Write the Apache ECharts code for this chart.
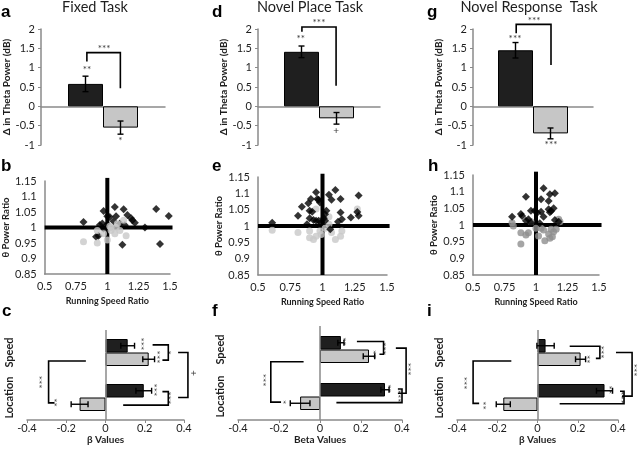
<!DOCTYPE html>
<html>
<head>
<meta charset="utf-8">
<script src="https://cdn.jsdelivr.net/npm/echarts@6/dist/echarts.min.js"></script>
<style>
html, body { margin: 0; padding: 0; background: #fff; }
#main { width: 640px; height: 451px; }
</style>
</head>
<body>
<div id="main"></div>
<script>
// ---------- data ----------
// top row: change in theta power (dB), [black bar, gray bar]
var fixedPower = [0.58, -0.55];
var fixedPowerErr = [0.2, 0.17];
var placePower = [1.41, -0.31];
var placePowerErr = [0.15, 0.15];
var responsePower = [1.45, -0.7];
var responsePowerErr = [0.2, 0.14];

// middle row: [running speed ratio, theta power ratio]
var fixedBlack = [[0.81,1.018],[0.97,1.053],[1.06,1.066],[1.13,1.059],[1.02,1.034],[1.0,1.036],[1.07,1.036],[1.16,1.04],[1.19,1.03],[1.2,1.023],[1.22,1.015],[1.39,1.06],[1.49,1.037],[1.42,0.947],[1.12,0.944],[0.91,0.97],[0.93,0.973],[0.96,1.013],[1.0,1.01],[1.05,1.02],[1.1,1.013],[1.14,1.007],[1.3,1.0],[0.94,1.008],[0.97,0.997]];
var fixedGray = [[0.81,0.954],[0.92,0.95],[1.0,0.96],[0.92,0.99],[1.03,0.99],[1.07,1.0],[1.06,0.98],[1.13,1.023],[1.15,0.973],[1.08,1.012],[1.03,1.0],[1.1,0.99],[0.97,0.98],[1.02,1.004]];
var placeBlack = [[0.61,1.01],[0.81,1.031],[0.84,1.059],[0.89,1.07],[0.91,1.083],[0.95,1.103],[0.96,1.083],[0.97,1.08],[0.98,1.072],[0.9,1.047],[0.92,1.044],[0.9,1.024],[0.93,1.018],[0.95,1.016],[0.97,1.016],[0.99,1.01],[1.02,1.016],[1.03,1.047],[1.02,1.036],[1.05,1.096],[1.07,1.08],[1.1,1.11],[1.14,1.083],[1.14,1.041],[1.15,1.021],[1.12,1.013],[1.22,1.026],[1.27,1.043],[1.28,1.093],[1.28,1.031],[1.06,0.99],[0.88,1.005],[1.01,1.024]];
var placeGray = [[0.61,0.987],[0.81,0.98],[0.9,0.985],[0.9,0.964],[0.93,0.959],[0.95,0.969],[0.99,0.974],[1.02,0.993],[1.05,1.028],[0.95,1.052],[1.05,1.005],[1.1,0.959],[1.14,0.969],[1.15,0.985],[1.27,1.052],[1.07,0.98],[0.98,0.985]];
var responseBlack = [[0.81,1.025],[0.88,1.033],[0.89,1.027],[0.92,1.085],[0.92,1.013],[0.94,1.017],[0.96,1.043],[0.99,1.043],[1.01,1.037],[1.04,1.04],[1.04,1.077],[1.06,1.11],[1.06,1.025],[1.1,1.072],[1.11,1.092],[1.15,1.095],[1.1,1.047],[1.12,1.042],[1.14,1.05],[1.11,1.038],[1.15,1.015],[0.96,1.007],[1.03,1.005],[1.18,1.01]];
var responseGray = [[0.82,0.997],[0.81,1.007],[0.88,0.977],[0.88,0.943],[0.92,0.97],[0.94,0.977],[1.0,0.99],[1.02,0.967],[1.04,0.99],[1.06,0.985],[1.07,0.953],[1.1,0.973],[1.12,0.987],[1.13,0.965],[1.14,0.98],[1.16,0.987],[1.18,1.017],[1.19,1.01],[0.96,1.01],[1.11,0.96]];
// reference lines at ratio 1 (x from .. to, y from .. to)
var ratioCross = [[[0.5,1],[1.52,1]], [[1,0.85],[1,1.16]]];

// bottom row: beta values, categories listed bottom -> top
var betaCats = ['Location', 'Speed'];
var fixedBetaBlack = [0.195, 0.113];
var fixedBetaBlackErr = [0.04, 0.035];
var fixedBetaGray = [-0.132, 0.22];
var fixedBetaGrayErr = [0.043, 0.03];
var placeBetaBlack = [0.317, 0.102];
var placeBetaBlackErr = [0.02, 0.015];
var placeBetaGray = [-0.097, 0.239];
var placeBetaGrayErr = [0.048, 0.028];
var responseBetaBlack = [0.333, 0.04];
var responseBetaBlackErr = [0.04, 0.043];
var responseBetaGray = [-0.17, 0.214];
var responseBetaGrayErr = [0.035, 0.025];

// significance brackets and stars (top row: x 0..1 across plot, y in dB)
var fixedBracket = [[0.37,1.16],[0.37,1.39],[0.64,1.39],[0.64,0.47]];
var fixedStars = [[0.37,0.95,'**'],[0.51,1.5,'***'],[0.64,-0.9,'*']];
var placeBracket = [[0.36,1.93],[0.36,2.05],[0.64,2.05],[0.64,0.53]];
var placeStars = [[0.35,1.74,'**'],[0.5,2.17,'***'],[0.64,-0.63,'+']];
var responseBracket = [[0.36,1.89],[0.36,2.12],[0.65,2.12],[0.65,1.07]];
var responseStars = [[0.35,1.74,'***'],[0.51,2.22,'***'],[0.65,-0.99,'***']];
// bottom row: x in beta, y 0..2 from bottom to top of plot
var fixedBetaBrackets = [
  [[0.24,1.67],[0.32,1.67],[0.32,1.33],[0.29,1.33]],
  [[0.37,1.5],[0.42,1.5],[0.42,0.5],[0.37,0.5]],
  [[0.29,0.63],[0.32,0.63],[0.32,0.33],[0.09,0.33]],
  [[-0.10,1.31],[-0.29,1.31],[-0.29,0.38],[-0.26,0.38]]
];
var fixedBetaStars = [[0.2,1.69,'***'],[0.28,1.4,'***'],[0.34,1.5,'*'],[0.45,1.04,'+'],[0.266,0.67,'***'],[0.34,0.49,'***'],[-0.32,0.84,'***'],[-0.242,0.39,'**']];
var placeBetaBrackets = [
  [[0.18,1.67],[0.31,1.67],[0.31,1.40],[0.29,1.40]],
  [[0.37,1.53],[0.42,1.53],[0.42,0.57],[0.38,0.57]],
  [[0.38,0.66],[0.40,0.66],[0.40,0.37],[0.08,0.37]],
  [[-0.08,1.24],[-0.24,1.24],[-0.24,0.38],[-0.19,0.38]]
];
var placeBetaStars = [[0.133,1.67,'**'],[0.277,1.4,'**'],[0.328,1.52,'***'],[0.447,1.08,'***'],[0.35,0.67,'**'],[0.401,0.51,'***'],[-0.26,0.85,'***'],[-0.162,0.38,'*']];
var responseBetaBrackets = [
  [[0.16,1.64],[0.31,1.64],[0.31,1.37],[0.29,1.37]],
  [[0.39,1.5],[0.47,1.5],[0.47,0.53],[0.42,0.53]],
  [[0.41,0.64],[0.43,0.64],[0.43,0.36],[0.11,0.36]],
  [[-0.13,1.31],[-0.32,1.31],[-0.32,0.37],[-0.29,0.37]]
];
var responseBetaStars = [[0.267,1.35,'**'],[0.333,1.51,'***'],[0.498,1.11,'***'],[0.374,0.67,'**'],[0.432,0.5,'***'],[-0.347,0.82,'***'],[-0.252,0.32,'**']];

// ---------- styles ----------
var FONT = 'Lato, "Open Sans", sans-serif';
var TXT = '#1e1e1e';
var AXIS_GRAY = '#8a8a8a';
var DARK = '#1f1f1f';
var LIGHT = '#c6c6c6';

var grids = [], xAxes = [], yAxes = [], series = [];
function push(arr, o) { arr.push(o); return arr.length - 1; }

function errorSeries(xi, yi, data, offset, horizontal) {
  return {
    type: 'custom', xAxisIndex: xi, yAxisIndex: yi, clip: false, z: 5,
    encode: { x: 0, y: 1 },
    data: data,
    renderItem: function (params, api) {
      var st = { stroke: '#000', lineWidth: 1.4 };
      var cap = 3, lo, hi;
      if (!horizontal) {
        lo = api.coord([api.value(0), api.value(1) - api.value(2)]);
        hi = api.coord([api.value(0), api.value(1) + api.value(2)]);
        var x = lo[0] + offset;
        return { type: 'group', children: [
          { type: 'line', shape: { x1: x, y1: lo[1], x2: x, y2: hi[1] }, style: st },
          { type: 'line', shape: { x1: x - cap, y1: lo[1], x2: x + cap, y2: lo[1] }, style: st },
          { type: 'line', shape: { x1: x - cap, y1: hi[1], x2: x + cap, y2: hi[1] }, style: st }
        ] };
      }
      lo = api.coord([api.value(0) - api.value(2), api.value(1)]);
      hi = api.coord([api.value(0) + api.value(2), api.value(1)]);
      var y = lo[1] + offset;
      return { type: 'group', children: [
        { type: 'line', shape: { x1: lo[0], y1: y, x2: hi[0], y2: y }, style: st },
        { type: 'line', shape: { x1: lo[0], y1: y - cap, x2: lo[0], y2: y + cap }, style: st },
        { type: 'line', shape: { x1: hi[0], y1: y - cap, x2: hi[0], y2: y + cap }, style: st }
      ] };
    }
  };
}

// polylines given in data coordinates (brackets, reference lines)
function polySeries(xi, yi, list, width, z) {
  var n = list[0].length;
  var ex = [], ey = [];
  for (var k = 0; k < n; k++) { ex.push(2 * k); ey.push(2 * k + 1); }
  return {
    type: 'custom', xAxisIndex: xi, yAxisIndex: yi, clip: false, silent: true, z: z,
    encode: { x: ex, y: ey },
    data: list.map(function (b) { return [].concat.apply([], b); }),
    renderItem: function (params, api) {
      var pts = [];
      for (var k = 0; k < n; k++) pts.push(api.coord([api.value(2 * k), api.value(2 * k + 1)]));
      return { type: 'polyline', shape: { points: pts }, style: { stroke: '#000', lineWidth: width, fill: null } };
    }
  };
}

function starSeries(xi, yi, stars, rotate) {
  return { type: 'scatter', xAxisIndex: xi, yAxisIndex: yi, clip: false, silent: true, symbolSize: 1,
    itemStyle: { color: 'rgba(0,0,0,0)' }, z: 7,
    data: stars.map(function (s) { return { value: [s[0], s[1]], name: s[2] }; }),
    label: { show: true, position: 'inside', formatter: '{b}', rotate: rotate || 0,
      fontSize: 10, color: '#000', fontFamily: FONT } };
}

function labelStyle() { return { fontSize: 11, color: TXT, fontFamily: FONT }; }
function nameStyle(size) { return { fontSize: size || 10, fontWeight: 'bold', color: TXT, fontFamily: FONT }; }

// vertical bar panel (top row)
function powerPanel(box, vals, errs, bracket, stars, nameGap) {
  var g = push(grids, box);
  var xi = push(xAxes, { type: 'category', gridIndex: g, data: [''],
    axisLine: { onZero: true, lineStyle: { color: AXIS_GRAY, width: 1.5 } },
    axisTick: { show: false }, axisLabel: { show: false } });
  var xa = push(xAxes, { type: 'value', gridIndex: g, min: 0, max: 1, show: false });
  var yi = push(yAxes, { type: 'value', gridIndex: g, min: -1, max: 2, interval: 0.5,
    axisLine: { show: true, onZero: false, lineStyle: { color: AXIS_GRAY, width: 1.5 } },
    axisTick: { show: true, length: 3, lineStyle: { color: AXIS_GRAY } },
    splitLine: { show: false },
    axisLabel: Object.assign({ margin: 6 }, labelStyle()),
    name: 'Δ in Theta Power (dB)', nameLocation: 'middle', nameGap: nameGap, nameTextStyle: nameStyle(10) });
  series.push({ type: 'bar', xAxisIndex: xi, yAxisIndex: yi, data: [vals[0]], barWidth: 35, barGap: '0%',
    itemStyle: { color: DARK, borderColor: '#000', borderWidth: 1 } });
  series.push({ type: 'bar', xAxisIndex: xi, yAxisIndex: yi, data: [vals[1]], barWidth: 35, barGap: '0%',
    itemStyle: { color: LIGHT, borderColor: '#000', borderWidth: 1 } });
  series.push(errorSeries(xi, yi, [[0, vals[0], errs[0]]], -17.5, false));
  series.push(errorSeries(xi, yi, [[0, vals[1], errs[1]]], 17.5, false));
  series.push(polySeries(xa, yi, [bracket], 1.6, 6));
  series.push(starSeries(xa, yi, stars, 0));
}

// scatter panel (middle row)
function ratioPanel(box, black, gray, grayColor, grayOnTop, nameGap) {
  var g = push(grids, box);
  var xi = push(xAxes, { type: 'value', gridIndex: g, min: 0.5, max: 1.5, interval: 0.25,
    axisLine: { onZero: false, lineStyle: { color: AXIS_GRAY, width: 1.5 } },
    axisTick: { show: false }, splitLine: { show: false },
    axisLabel: Object.assign({ margin: 7, formatter: function (v) { return String(+v.toFixed(2)); } }, labelStyle()),
    name: 'Running Speed Ratio', nameLocation: 'middle', nameGap: 23, nameTextStyle: nameStyle(9) });
  var yi = push(yAxes, { type: 'value', gridIndex: g, min: 0.85, max: 1.15, interval: 0.05,
    axisLine: { onZero: false, lineStyle: { color: AXIS_GRAY, width: 1.5 } },
    axisTick: { show: false }, splitLine: { show: false },
    axisLabel: Object.assign({ margin: 8, formatter: function (v) { return String(+v.toFixed(2)); } }, labelStyle()),
    name: 'θ Power Ratio', nameLocation: 'middle', nameGap: nameGap, nameTextStyle: nameStyle(9.5) });
  series.push(polySeries(xi, yi, ratioCross, 4, 1));
  series.push({ type: 'scatter', xAxisIndex: xi, yAxisIndex: yi, data: black, symbol: 'diamond',
    symbolSize: 8, itemStyle: { color: '#000' }, z: 3 });
  series.push({ type: 'scatter', xAxisIndex: xi, yAxisIndex: yi, data: gray, symbol: 'circle',
    symbolSize: 7, itemStyle: { color: grayColor }, z: grayOnTop ? 4 : 2 });
}

// horizontal bar panel (bottom row)
function betaPanel(box, black, blackErr, gray, grayErr, brackets, stars, xName) {
  var g = push(grids, box);
  var bw = 13.5;
  var xi = push(xAxes, { type: 'value', gridIndex: g, min: -0.4, max: 0.4, interval: 0.2,
    axisLine: { onZero: false, lineStyle: { color: AXIS_GRAY, width: 1.5 } },
    axisTick: { show: true, length: 3, lineStyle: { color: AXIS_GRAY } }, splitLine: { show: false },
    axisLabel: Object.assign({ margin: 3 }, labelStyle()),
    name: xName, nameLocation: 'middle', nameGap: 15, nameTextStyle: nameStyle(10) });
  var yi = push(yAxes, { type: 'category', gridIndex: g, data: betaCats,
    axisLine: { show: false }, axisTick: { show: false },
    axisLabel: { interval: 0, rotate: 90, margin: 12, fontSize: 11, fontWeight: 'bold', color: TXT, fontFamily: FONT } });
  var ya = push(yAxes, { type: 'value', gridIndex: g, min: 0, max: 2, show: false });
  series.push({ type: 'bar', xAxisIndex: xi, yAxisIndex: yi, data: black, barWidth: bw, barGap: '0%',
    itemStyle: { color: DARK, borderColor: '#000', borderWidth: 1 },
    markLine: { silent: true, symbol: ['none', 'none'], label: { show: false },
      lineStyle: { color: AXIS_GRAY, width: 1.5, type: 'solid' }, data: [{ xAxis: 0 }] } });
  series.push({ type: 'bar', xAxisIndex: xi, yAxisIndex: yi, data: gray, barWidth: bw, barGap: '0%',
    itemStyle: { color: LIGHT, borderColor: '#000', borderWidth: 1 } });
  series.push(errorSeries(xi, yi, black.map(function (v, i) { return [v, i, blackErr[i]]; }), -bw / 2, true));
  series.push(errorSeries(xi, yi, gray.map(function (v, i) { return [v, i, grayErr[i]]; }), bw / 2, true));
  series.push(polySeries(xi, ya, brackets, 1.6, 6));
  series.push(starSeries(xi, ya, stars, 90));
}

powerPanel({ left: 41, top: 29, width: 124, height: 116 }, fixedPower, fixedPowerErr, fixedBracket, fixedStars, 24);
powerPanel({ left: 258, top: 29, width: 122, height: 116 }, placePower, placePowerErr, placeBracket, placeStars, 27);
powerPanel({ left: 473, top: 29, width: 120, height: 116 }, responsePower, responsePowerErr, responseBracket, responseStars, 27);

ratioPanel({ left: 44, top: 181, width: 126, height: 93 }, fixedBlack, fixedGray, '#c8c8c8', true, 30);
ratioPanel({ left: 258, top: 177, width: 129, height: 98 }, placeBlack, placeGray, '#c8c8c8', false, 30);
ratioPanel({ left: 473, top: 175, width: 126, height: 100 }, responseBlack, responseGray, '#8e8e8e', false, 30);

betaPanel({ left: 27, top: 330, width: 157, height: 90 }, fixedBetaBlack, fixedBetaBlackErr, fixedBetaGray, fixedBetaGrayErr, fixedBetaBrackets, fixedBetaStars, 'β Values');
betaPanel({ left: 238, top: 326, width: 164, height: 94 }, placeBetaBlack, placeBetaBlackErr, placeBetaGray, placeBetaGrayErr, placeBetaBrackets, placeBetaStars, 'Beta Values');
betaPanel({ left: 457, top: 330, width: 161, height: 90 }, responseBetaBlack, responseBetaBlackErr, responseBetaGray, responseBetaGrayErr, responseBetaBrackets, responseBetaStars, 'β Values');

// panel titles and letters
var texts = [
  ['Fixed Task', 95, 7], ['Novel Place Task', 310, 7], ['Novel Response  Task', 529, 7]
];
var letters = [
  ['a', 1, 21], ['d', 212, 21], ['g', 427, 21],
  ['b', 1, 175], ['e', 212, 175], ['h', 428, 175],
  ['c', 2, 320], ['f', 212, 320], ['i', 427, 320]
];
var graphic = texts.map(function (t) {
  return { type: 'text', x: t[1], y: t[2], silent: true,
    style: { text: t[0], fontSize: 14.5, fontFamily: FONT, fill: TXT, align: 'center', verticalAlign: 'middle' } };
}).concat(letters.map(function (t) {
  return { type: 'text', x: t[1], y: t[2], silent: true,
    style: { text: t[0], fontSize: 17, fontWeight: 'bold', fontFamily: '"Liberation Sans", Arial, sans-serif',
      fill: '#000', align: 'left', verticalAlign: 'bottom' } };
}));

var myChart = echarts.init(document.getElementById('main'));
myChart.setOption({
  animation: false,
  backgroundColor: '#fff',
  textStyle: { fontFamily: FONT },
  grid: grids,
  xAxis: xAxes,
  yAxis: yAxes,
  series: series,
  graphic: graphic
});
</script>
</body>
</html>
